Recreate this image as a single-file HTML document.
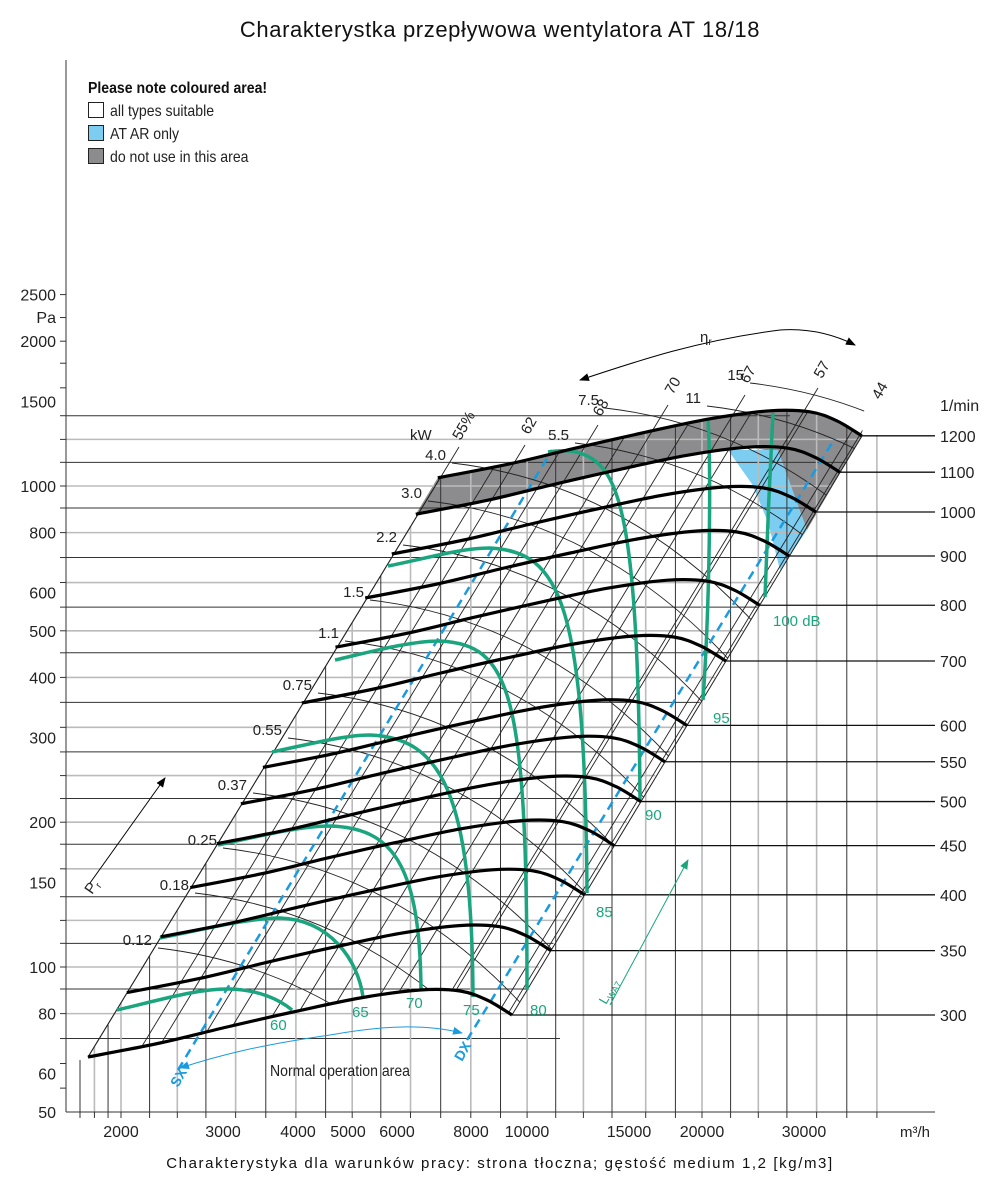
<!DOCTYPE html>
<html><head><meta charset="utf-8">
<style>
html,body{margin:0;padding:0;background:#fff;overflow:hidden;width:1000px;height:1193px;}
svg{display:block;}
text{font-family:"Liberation Sans",sans-serif;}
</style></head>
<body>
<svg id="s" width="1000" height="1193" viewBox="0 0 1000 1193" xmlns="http://www.w3.org/2000/svg">
<defs>
<clipPath id="reg"><path id="regp" d=""/></clipPath>
<clipPath id="reg2"><path id="regp2" d=""/></clipPath>
<marker id="ah" markerWidth="10" markerHeight="8" refX="9" refY="4" orient="auto" markerUnits="userSpaceOnUse"><path d="M0,0 L10,4 L0,8 z" fill="#000"/></marker>
<marker id="ahb" markerWidth="10" markerHeight="8" refX="9" refY="4" orient="auto" markerUnits="userSpaceOnUse"><path d="M0,0 L10,4 L0,8 z" fill="#1a9be0"/></marker>
<marker id="ahg" markerWidth="10" markerHeight="8" refX="9" refY="4" orient="auto" markerUnits="userSpaceOnUse"><path d="M0,0 L10,4 L0,8 z" fill="#1aa57f"/></marker>
</defs>
<g id="g"></g>
</svg>
<script>
(function(){
const g=document.getElementById('g');
let h='';
const Y=p=>967-481*Math.log10(p/100);
const X=q=>121+581*Math.log10(q/2000);
const base=[[88,1057],[160,1043],[227,1027],[293,1012],[360,998],[420,990],[460,991],[487,1000],[512,1015]];
function shift(n){const s=Math.log10(n/300);return base.map(p=>[p[0]+581*s,p[1]-962*s]);}
function cr(pts){let d='M'+pts[0][0].toFixed(1)+','+pts[0][1].toFixed(1);
 for(let i=0;i<pts.length-1;i++){const p0=pts[i-1]||pts[i],p1=pts[i],p2=pts[i+1],p3=pts[i+2]||p2;
 const c1=[p1[0]+(p2[0]-p0[0])/6,p1[1]+(p2[1]-p0[1])/6],c2=[p2[0]-(p3[0]-p1[0])/6,p2[1]-(p3[1]-p1[1])/6];
 d+=' C'+c1[0].toFixed(1)+','+c1[1].toFixed(1)+' '+c2[0].toFixed(1)+','+c2[1].toFixed(1)+' '+p2[0].toFixed(1)+','+p2[1].toFixed(1);}
 return d;}
const topC=shift(1200), bot=base;
const rightX=y=>862-0.607*(y-435);
function topY(x){
 if(x<438) return 1057-(x-88)/0.608;
 if(x>862) return 435;
 for(let i=0;i<topC.length-1;i++){if(x>=topC[i][0]&&x<=topC[i+1][0]){const t=(x-topC[i][0])/(topC[i+1][0]-topC[i][0]);return topC[i][1]+t*(topC[i+1][1]-topC[i][1]);}}
 return 435;}
let rd=cr(bot)+' L862,436 '+cr(topC.slice().reverse()).replace('M','L')+' Z';
document.getElementById('regp').setAttribute('d',rd);
let rd2='M0,0 L900,0 L862,436 L512,1015 '+cr(bot.slice().reverse()).replace('M','L')+' L0,1100 Z';
document.getElementById('regp2').setAttribute('d',rd2);

const c1100=shift(1100);
let gp=cr(topC)+' L807,530 L778,452 ';
const part=c1100.filter(p=>p[0]<770).reverse();
gp+=part.map(p=>'L'+p[0].toFixed(1)+','+p[1].toFixed(1)).join(' ')+' Z';
h+='<path d="'+gp+'" fill="#8c8c8e"/>';
h+='<path d="M728,450 L778,450 L807,530 L780,570 L768,522 L752,484 Z" fill="#7dcdf0"/>';

const pv=[56,63,71,80,90,100,112,125,140,160,180,200,224,250,280,315,355,400,450,500,560,630,710,800,900,1000,1120,1250,1400,1600,1800,2000,2240,2500];
pv.forEach((p,i)=>{const y=Y(p);
 h+=`<line x1="60" y1="${y}" x2="66" y2="${y}" stroke="#333" stroke-width="1"/>`;
 if(p<71||p>1400) return;
 let x2; if(y>1015) x2=560; else if(y>=435) x2=rightX(y); else x2=790;
 h+=`<line x1="66" y1="${y}" x2="${x2}" y2="${y}" stroke="${i%2?'#bbb':'#333'}" stroke-width="${i%2?1.6:1}"/>`;});
const qv=[1700,1800,1900,2000,2240,2500,2800,3150,3550,4000,4500,5000,5600,6300,7100,8000,9000,10000,11200,12500,14000,16000,18000,20000,22400,25000,28000,31500,35500,40000];
qv.forEach((q,i)=>{const x=X(q);const ty=x<90?1060:topY(x);
 h+=`<line x1="${x}" y1="1112" x2="${x}" y2="${ty}" stroke="${i%2?'#bbb':'#333'}" stroke-width="${i%2?1.6:1}"/>`;
 h+=`<line x1="${x}" y1="1112" x2="${x}" y2="1118" stroke="#333"/>`;});
let dg='';
for(let x0=-290;x0<1000;x0+=56){dg+=`<line x1="${x0}" y1="1112" x2="${x0+0.608*800}" y2="312" stroke="#222" stroke-width="0.9"/>`;}
h+=`<g clip-path="url(#reg)">${dg}</g>`;
h+='<line x1="88" y1="1057" x2="440" y2="478" stroke="#222" stroke-width="1"/>';
h+='<line x1="512" y1="1015" x2="862" y2="436" stroke="#222" stroke-width="1"/>';
const eff=[[459,447,'55%',468,428],[525,445,'62',533,428],[598,425,'68',605,410],[668,405,'70',677,388],[745,395,'67',752,377],[818,388,'57',826,372],[875,410,'44',884,393]];
let el='';
eff.forEach(e=>{el+=`<line x1="${e[0]}" y1="${e[1]}" x2="${e[0]-0.608*700}" y2="${e[1]+700}" stroke="#222" stroke-width="0.9"/>`;
 h+=`<text x="${e[3]}" y="${e[4]}" font-size="15" fill="#222" text-anchor="middle" transform="rotate(-60 ${e[3]} ${e[4]})">${e[2]}</text>`;});
h+=`<g clip-path="url(#reg2)">${el}</g>`;
const kw=[['0.12',120,945],['0.18',157,890],['0.25',185,845],['0.37',215,790],['0.55',250,735],['0.75',280,690],['1.1',315,638],['1.5',340,597],['2.2',373,542],['3.0',398,498],['4.0',422,460],['5.5',545,440],['7.5',575,405],['11',685,403],['15',728,380]];
let ka='';
kw.forEach(k=>{const lx=k[1]+k[0].length*8+6, ly=k[2]+3;
 h+=`<text x="${k[1]+k[0].length*8}" y="${k[2]}" font-size="15" fill="#222" text-anchor="end">${k[0]}</text>`;
 ka+=`<path d="M${lx},${ly} Q${lx+260},${ly+30} ${lx+420},${ly+330}" fill="none" stroke="#222" stroke-width="0.9"/>`;});
h+=`<g clip-path="url(#reg2)">${ka}</g>`;
h+='<text x="410" y="440" font-size="15" fill="#222">kW</text>';
h+='<line x1="178" y1="1070" x2="552" y2="450" stroke="#1a9be0" stroke-width="2.5" stroke-dasharray="9,6"/>';
h+='<line x1="467" y1="1040" x2="835" y2="438" stroke="#1a9be0" stroke-width="2.5" stroke-dasharray="9,6"/>';
const gc=[
'M117,1010 C160,1000 200,988 230,989 C260,990 280,1000 292,1010',
'M160,938 C210,928 250,918 280,918 C330,920 358,960 363,997',
'M218,845 C260,836 300,826 330,826 C390,828 420,860 421,990',
'M272,752 C310,744 345,735 370,735 C440,738 472,790 473,997',
'M335,660 C370,652 410,641 440,641 C510,645 527,690 527,990',
'M388,566 C420,560 460,548 490,548 C560,552 585,600 587,893',
'M548,452 C560,450 575,450 585,455 C620,470 638,520 640,800',
'M708,418 C711,470 710,600 703,700',
'M773,413 C770,470 767,540 765,597'];
gc.forEach(d=>h+=`<path d="${d}" fill="none" stroke="#1aa57f" stroke-width="3.5"/>`);
const rpm=[300,350,400,450,500,550,600,700,800,900,1000,1100,1200];
rpm.forEach(n=>{const c=shift(n);h+=`<path d="${cr(c)}" fill="none" stroke="#000" stroke-width="3.2"/>`;
 const e=c[c.length-1];h+=`<line x1="${e[0]}" y1="${e[1]}" x2="935" y2="${e[1]}" stroke="#111" stroke-width="1.3"/>`;
 h+=`<text x="940" y="${e[1]+6}" font-size="16" fill="#222">${n}</text>`;});
h+='<text x="940" y="411" font-size="16" fill="#222">1/min</text>';
[[270,1030,'60'],[352,1017,'65'],[406,1008,'70'],[463,1015,'75'],[530,1015,'80'],[596,917,'85'],[645,820,'90'],[713,723,'95'],[773,626,'100 dB']].forEach(t=>h+=`<text x="${t[0]}" y="${t[1]}" font-size="15" fill="#1aa57f">${t[2]}</text>`);
h+='<line x1="66" y1="60" x2="66" y2="1112" stroke="#333" stroke-width="1"/>';
h+='<line x1="66" y1="1112" x2="935" y2="1112" stroke="#333" stroke-width="1"/>';
[2500,2000,1500,1000,800,600,500,400,300,200,150,100,80,60,50].forEach(p=>{h+=`<text x="56" y="${Y(p)+6}" font-size="16" fill="#222" text-anchor="end">${p}</text>`;});
h+='<text x="56" y="323" font-size="16" fill="#222" text-anchor="end">Pa</text>';
[[2000,121],[3000,223],[4000,298],[5000,348],[6000,397],[8000,471],[10000,527],[15000,629],[20000,702],[30000,804]].forEach(a=>h+=`<text x="${a[1]}" y="1137" font-size="16" fill="#222" text-anchor="middle">${a[0]}</text>`);
h+='<text x="915" y="1137" font-size="15" fill="#222" text-anchor="middle">m³/h</text>';
h+='<path d="M780,330 C700,340 640,360 580,380" fill="none" stroke="#000" stroke-width="1" marker-end="url(#ah)"/>';
h+='<path d="M780,330 C810,328 835,335 855,345" fill="none" stroke="#000" stroke-width="1" marker-end="url(#ah)"/>';
h+='<text x="700" y="342" font-size="15" fill="#222">η<tspan font-size="10" dy="3">r</tspan></text>';
h+='<line x1="90" y1="883" x2="165" y2="778" stroke="#000" stroke-width="1" marker-end="url(#ah)"/>';
h+='<text x="92" y="895" font-size="15" fill="#222" transform="rotate(-55 92 895)">P<tspan font-size="10" dy="3">r</tspan></text>';
h+='<line x1="610" y1="1005" x2="688" y2="860" stroke="#1aa57f" stroke-width="1" marker-end="url(#ahg)"/>';
h+='<text x="606" y="1005" font-size="13" fill="#1aa57f" transform="rotate(-60 606 1005)">L<tspan font-size="9" dy="3">WA7</tspan></text>';
h+='<path d="M330,1035 C260,1045 220,1055 180,1068" fill="none" stroke="#1a9be0" stroke-width="1" marker-end="url(#ahb)"/>';
h+='<path d="M330,1035 C390,1024 430,1025 462,1033" fill="none" stroke="#1a9be0" stroke-width="1" marker-end="url(#ahb)"/>';
h+='<text x="178" y="1088" font-size="14" font-weight="bold" fill="#1a9be0" transform="rotate(-60 178 1088)">SX</text>';
h+='<text x="462" y="1062" font-size="14" font-weight="bold" fill="#1a9be0" transform="rotate(-60 462 1062)">DX</text>';
h+='<text x="270" y="1076" font-size="16" fill="#222" transform="translate(270 1076) scale(0.88 1) translate(-270 -1076)">Normal operation area</text>';
h+='<text x="88" y="93" font-size="16" font-weight="bold" fill="#111" transform="translate(88 93) scale(0.88 1) translate(-88 -93)">Please note coloured area!</text>';
h+='<rect x="88.5" y="102.5" width="15" height="15" fill="#fff" stroke="#222"/>';
h+='<rect x="88.5" y="125.5" width="15" height="15" fill="#7dcdf0" stroke="#222"/>';
h+='<rect x="88.5" y="148.5" width="15" height="15" fill="#8c8c8e" stroke="#222"/>';
[['all types suitable',116],['AT AR only',139],['do not use in this area',162]].forEach(t=>h+=`<text x="110" y="${t[1]}" font-size="16" fill="#222" transform="translate(110 ${t[1]}) scale(0.88 1) translate(-110 -${t[1]})">${t[0]}</text>`);
h+='<text x="500" y="37" font-size="22" fill="#111" text-anchor="middle" letter-spacing="0.6">Charakterystka przepływowa wentylatora AT 18/18</text>';
h+='<text x="500" y="1168" font-size="15" fill="#111" text-anchor="middle" letter-spacing="1.6">Charakterystyka dla warunków pracy: strona tłoczna; gęstość medium 1,2 [kg/m3]</text>';
g.innerHTML=h;
})();
</script>
</body></html>
